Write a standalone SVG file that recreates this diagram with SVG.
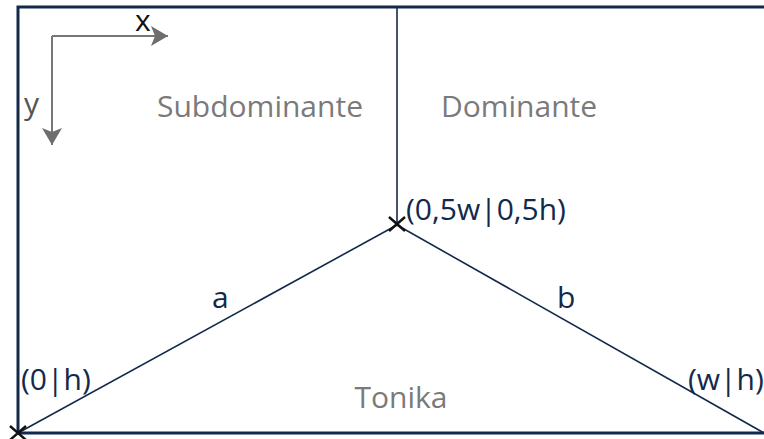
<svg xmlns="http://www.w3.org/2000/svg" width="764" height="439" viewBox="0 0 764 439">
<style>
.frame{fill:none;stroke:#13294b;stroke-width:3}
.ln{fill:none;stroke:#13294b;stroke-width:1.6}
.ax{fill:none;stroke:#777;stroke-width:2}
.region{font-family:"Open Sans",sans-serif;font-size:30px;fill:#7a7a7a;text-anchor:middle}
.lbl{font-family:"Open Sans",sans-serif;font-size:30px;fill:#13294b}
.axl{font-family:"Open Sans",sans-serif;font-size:30px;fill:#555}
.cross{stroke:#111;stroke-width:2.4}
</style>
<defs>
<marker id="ah2" viewBox="0 0 18 20" refX="17" refY="10" markerWidth="18" markerHeight="20" markerUnits="userSpaceOnUse" orient="auto"><path d="M0,0 L17,10 L0,20 L4,10 Z" fill="#6e6e6e"/></marker>
</defs>
<g id="frame">
<path class="frame" d="M18,433 L18,7 L766,7"/>
<path class="frame" d="M18,433 L766,433"/>
</g>
<g id="axes">
<path class="ax" d="M52,36 L168,36" marker-end="url(#ah2)"/>
<path class="ax" d="M52,36 L52,145" marker-end="url(#ah2)"/>
<text class="axl" x="135" y="31" style="fill:#111">x</text>
<text class="axl" x="24" y="114">y</text>
</g>
<g id="connectors">
<path class="ln" d="M397,7 L397,225"/>
<path class="ln" d="M18,433 L397,225"/>
<path class="ln" d="M397,225 L764,433"/>
</g>
<g id="subdominante"><text class="region" x="260" y="117">Subdominante</text></g>
<g id="dominante"><text class="region" x="519" y="117">Dominante</text></g>
<g id="tonika"><text class="region" x="401" y="408">Tonika</text></g>
<g id="center">
<path class="cross" d="M389,217 L405,231 M405,217 L389,231"/>
<text class="lbl" x="406" y="220">(0,5w|0,5h)</text>
</g>
<g id="origin">
<path class="cross" d="M10,426 L26,440 M26,426 L10,440"/>
<text class="lbl" x="21" y="390">(0|h)</text>
</g>
<g id="corner">
<text class="lbl" x="688" y="390">(w|h)</text>
</g>
<g id="side-a"><text class="lbl" x="212" y="308">a</text></g>
<g id="side-b"><text class="lbl" x="557" y="308">b</text></g>
</svg>
